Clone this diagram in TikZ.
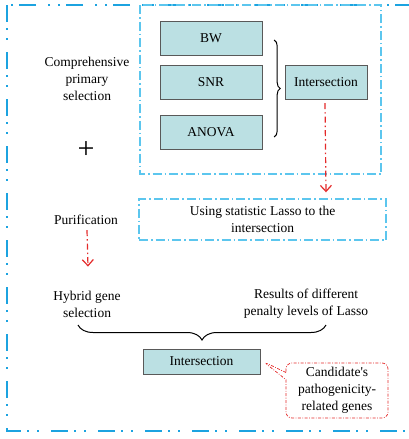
\documentclass[tikz,border=0pt]{standalone}
\usepackage{fontspec}
\setmainfont{Liberation Serif}
\newfontfamily\labelfont{Liberation Serif}
\usepackage{tikz}
\usetikzlibrary{positioning, arrows, arrows.meta, decorations.pathreplacing, shapes, shapes.callouts}
\definecolor{frameblue}{HTML}{1CA3E0}
\definecolor{dashblue}{HTML}{5CC6EE}
\definecolor{boxteal}{HTML}{BBE0E3}
\definecolor{arrowred}{HTML}{E42A2A}
\tikzstyle{tblock} = [rectangle, draw=black!65, fill=boxteal, 
text centered, minimum width=102pt, minimum height=34pt]
\tikzstyle{noblock} = [rectangle, align=center, inner sep=0pt]
\tikzstyle{dblock} = [rectangle, draw=dashblue, line width=1.4pt, align=center,
dash pattern=on 9pt off 3pt on 1.5pt off 3pt]
\tikzstyle{cblock} = [rectangle callout, draw=arrowred, line width=0.7pt, align=center,
dash pattern=on 3pt off 1.5pt on 0.8pt off 1.5pt,
rounded corners=6pt, minimum width=102pt, minimum height=55pt]
\tikzstyle{redarrow} = [line width=1.2pt, arrowred, dash pattern=on 6pt off 3pt on 1.5pt off 3pt,
-{Straight Barb[length=6pt,width=11pt]}]
\tikzstyle{brace} = [line width=1pt, decorate]

\begin{document}
\begin{tikzpicture}[x=1pt, y=-1pt]
                \tikzstyle{every node}=[font=\labelfont\fontsize{13.5}{17}\selectfont]
                \useasboundingbox (0,0) rectangle (409,439);
                \clip (0,0) rectangle (409,439);
                % frames
                \draw [frameblue, line width=2.5pt, dash pattern=on 17pt off 6pt on 2pt off 8pt on 2pt off 12pt] (7,5) rectangle (418,431);
                \draw [dblock] (140,5) rectangle (381,174);
                % top block
                \node (1) [tblock] at (211,38) {BW};
                \node (2) [tblock, below of=1, node distance=44pt] {SNR};
                \node (3) [tblock, below of=2, node distance=50pt] {ANOVA};
                \node (4) [tblock, minimum width=82pt] at (326,82) {Intersection};
                \draw [brace, decoration={brace, amplitude=6pt}] ([shift={(12,2)}]1.east) -- ([shift={(12,5)}]3.east);
                \node (5) [noblock] at (87,79) {Comprehensive\\primary\\selection};
                \node (6) [noblock, font=\labelfont\fontsize{30}{30}\selectfont] at (86,150) {+};
                \node (7) [noblock] at (86,220) {Purification};
                \node (8) [dblock, minimum width=247pt, minimum height=41pt] at (262.5,219.5) {Using statistic Lasso to the\\intersection};
                \draw [redarrow] ([shift={(-1,4)}]4.south) -- ([shift={(0,-6)}]4.south |- 8.north);
                % bottom block
                \node (9) [noblock] at (87,304) {Hybrid gene\\selection};
                \node (10) [noblock] at (306,304) {Results of different\\penalty levels of Lasso};
                \draw [redarrow] ([shift={(1,5)}]7.south) -- ([shift={(1,-24)}]9.north);
                \draw [brace, decoration={brace, amplitude=15pt}] ([shift={(20,21)}]10.center) -- ([shift={(-9,21)}]9.center);
                \node (11) [tblock, minimum width=117pt, minimum height=25pt] at (201.5,361.5) {Intersection};
                \node (12) [cblock, callout absolute pointer={([shift={(3,0)}]11.east)}] at (337,390.5) {Candidate\textquotesingle s\\pathogenicity-\\related genes};
        \end{tikzpicture}
\end{document}
